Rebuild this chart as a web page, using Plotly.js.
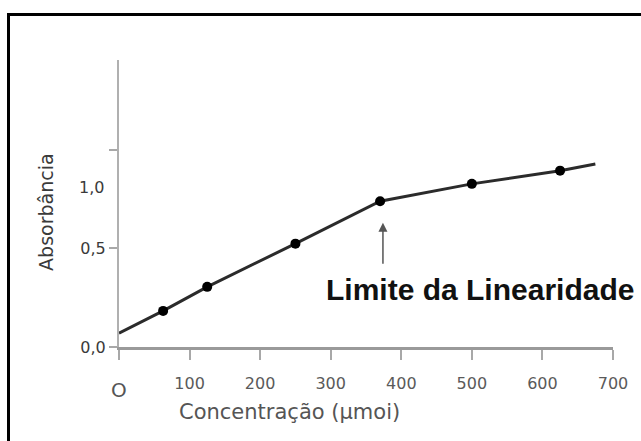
<!DOCTYPE html>
<html>
<head>
<meta charset="utf-8">
<script src="https://cdn.plot.ly/plotly-3.0.1.min.js"></script>
<style>
  html, body { margin: 0; padding: 0; width: 641px; height: 441px; overflow: hidden; background: #fff; }
  #chart { position: absolute; left: 0; top: 0; width: 641px; height: 441px; }
  #frame { position: absolute; left: 7px; top: 13px; width: 700px; height: 500px; border: 3px solid #000; pointer-events: none; }
</style>
</head>
<body>
<div id="chart"></div>
<div id="frame"></div>
<script>
// Data
const lineX = [0, 62.5, 125, 250, 370, 500, 625, 675];
const lineY = [0.07, 0.183, 0.305, 0.524, 0.739, 0.827, 0.894, 0.928];
const pointX = [62.5, 125, 250, 370, 500, 625];
const pointY = [0.183, 0.305, 0.524, 0.739, 0.827, 0.894];

const xTickVals = [0, 100, 200, 300, 400, 500, 600, 700];
const xTickText = ["", "100", "200", "300", "400", "500", "600", "700"];
const yTickVals = [0, 0.5, 1.0];
const yTickText = ["0,0", "0,5", ""];

const xTitle = "Concentração (µmoi)";
const yTitle = "Absorbância";
const noteText = "Limite da Linearidade";
const limitX = 374;
const limitY = 0.63;

const traces = [
  { x: lineX, y: lineY, type: "scatter", mode: "lines",
    line: { color: "#2b2b2b", width: 3 }, hoverinfo: "skip", showlegend: false },
  { x: pointX, y: pointY, type: "scatter", mode: "markers",
    marker: { color: "#000", size: 10 }, showlegend: false }
];

const layout = {
  width: 641, height: 441,
  margin: { l: 119, r: 28, t: 60, b: 94 },
  paper_bgcolor: "rgba(0,0,0,0)", plot_bgcolor: "rgba(0,0,0,0)",
  showlegend: false,
  xaxis: {
    range: [0, 700], showgrid: false, zeroline: false,
    showline: true, linecolor: "#9a9a9a", linewidth: 3,
    ticks: "outside", ticklen: 10, tickwidth: 2, tickcolor: "#a8a8a8",
    tickvals: xTickVals, ticktext: xTickText, ticklabelstandoff: 10,
    tickfont: { family: "DejaVu Sans", size: 16, color: "#5a5a5a" }
  },
  yaxis: {
    range: [0, 1.455], showgrid: false, zeroline: false,
    showline: true, linecolor: "#b0b0b0", linewidth: 2,
    ticks: "outside", ticklen: 8, tickwidth: 2, tickcolor: "#a8a8a8",
    tickvals: yTickVals, ticktext: yTickText,
    tickfont: { family: "DejaVu Sans", size: 16, color: "#3a3a3a" }
  },
  annotations: [
    { text: "1,0", xref: "paper", x: 0, xanchor: "right", xshift: -13,
      yref: "y", y: 0.81, showarrow: false,
      font: { family: "DejaVu Sans", size: 16, color: "#3a3a3a" } },
    { text: "O", xref: "x", x: 0, yref: "y", y: 0, yshift: -43, showarrow: false,
      font: { family: "DejaVu Sans", size: 20, color: "#555" } },
    { text: xTitle, xref: "x", x: 242, yref: "y", y: 0, yshift: -65, showarrow: false,
      font: { family: "DejaVu Sans", size: 21, color: "#555" } },
    { text: yTitle, xref: "paper", x: 0, xshift: -86, yref: "y", y: 0.685, textangle: -90,
      showarrow: false, font: { family: "DejaVu Sans", size: 19, color: "#3a3a3a" } },
    { text: "<b>" + noteText + "</b>", xref: "x", x: 512, yref: "y", y: 0.294, showarrow: false,
      font: { family: "Liberation Sans, Arial", size: 30, color: "#111" } },
    { text: " ", xref: "x", x: limitX, yref: "y", y: limitY, showarrow: true,
      ax: 0, ay: 44, arrowhead: 2, arrowsize: 1.2, arrowwidth: 1.5, arrowcolor: "#555",
      font: { size: 2 } }
  ]
};

Plotly.newPlot("chart", traces, layout, { displayModeBar: false, staticPlot: true });
</script>
</body>
</html>
